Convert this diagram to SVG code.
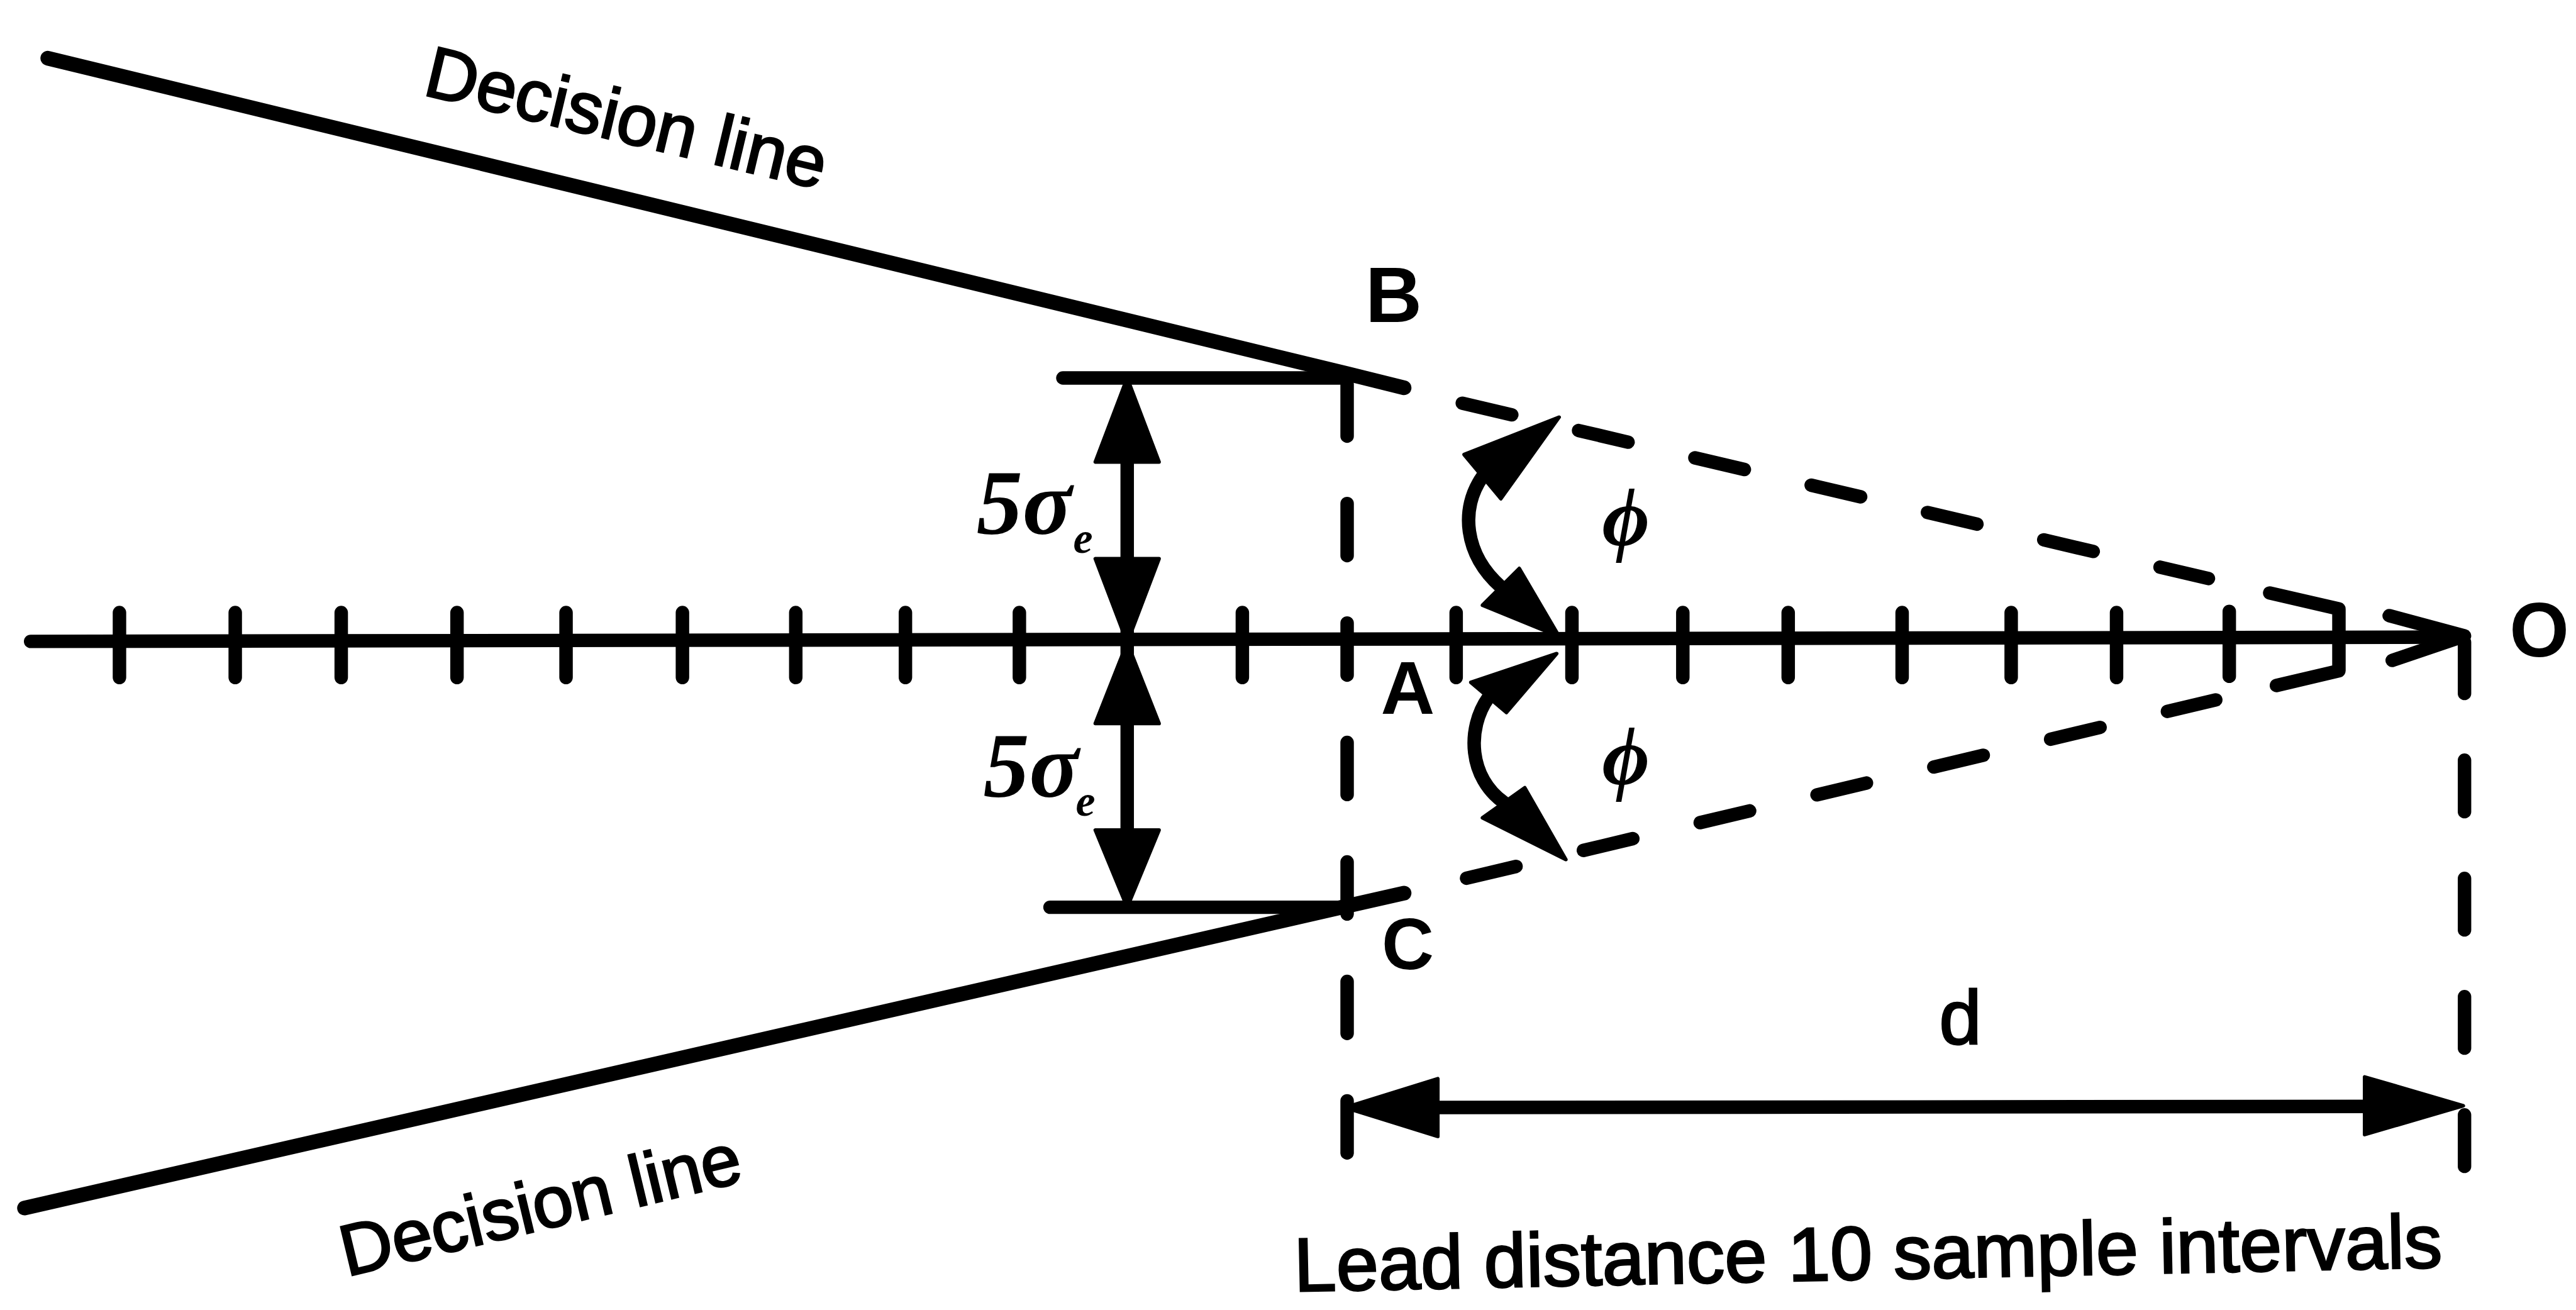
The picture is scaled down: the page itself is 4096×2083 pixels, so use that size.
<svg xmlns="http://www.w3.org/2000/svg" width="4096" height="2083" viewBox="0 0 4096 2083">
<style>
.ln{stroke:#000;stroke-width:22;fill:none;stroke-linecap:round;stroke-linejoin:round}
.dl{stroke:#000;stroke-width:24;fill:none;stroke-linecap:round;stroke-linejoin:round}
.ah{fill:#000;stroke:#000;stroke-width:6;stroke-linejoin:round}
.sans{font-family:"Liberation Sans",Arial,sans-serif;fill:#000}
.thick{stroke:#000;stroke-width:3}
.sym{font-family:"Liberation Serif","DejaVu Serif",serif;font-style:italic;font-weight:bold;fill:#000}
</style>
<rect width="4096" height="2083" fill="#fff"/>
<g transform="scale(0.97408)">
  <g id="decision-lines">
    <path class="dl" d="M 78 95 L 2199 610 L 2292 633"/>
    <path class="dl" d="M 40 1972 L 2199 1479 L 2292 1458"/>
    <text class="sans thick" font-size="118" transform="translate(688 154) rotate(13.4)">Decision line</text>
    <text class="sans thick" font-size="118" transform="translate(566 2084) rotate(-13.5)">Decision line</text>
  </g>
  <g id="axis">
    <path class="ln" d="M 50 1047 L 4020 1040"/>
    <path class="ln" d="M 195 1000 V 1106 M 384 1000 V 1106 M 557 1000 V 1106 M 746 1000 V 1106 M 924 1000 V 1106 M 1114 1000 V 1106 M 1299 1000 V 1106 M 1478 1000 V 1106 M 1664 1000 V 1106 M 2028 1000 V 1106 M 2377 1000 V 1106 M 2566 1000 V 1106 M 2747 1000 V 1106 M 2919 1000 V 1106 M 3105 1000 V 1106 M 3283 1000 V 1106 M 3455 1000 V 1106 M 3639 998 V 1104"/>
    <polyline class="ln" points="3900,1005 4023,1038 3905,1078"/>
  </g>
  <g id="mask-lines">
    <line class="ln" x1="2387" y1="658.2" x2="3605" y2="944.4" stroke-dasharray="83 112"/>
    <line class="ln" x1="2394" y1="1433.6" x2="3617" y2="1142.5" stroke-dasharray="83 113"/>
    <path class="ln" d="M 3705 968 L 3818 994 L 3818 1095 L 3716 1119"/>
    <line class="ln" x1="2199" y1="627" x2="2199" y2="1882" stroke-dasharray="85 110"/>
    <line class="ln" x1="4023" y1="1048" x2="4023" y2="1904" stroke-dasharray="84 109"/>
  </g>
  <g id="dimension-5sigma">
    <path class="ln" d="M 1735 617 L 2199 617 M 1714 1481 L 2199 1481 M 1840 700 L 1840 1400"/>
    <polygon class="ah" points="1840,617 1788,754 1892,754"/>
    <polygon class="ah" points="1788,912 1892,912 1840,1049"/>
    <polygon class="ah" points="1840,1049 1788,1181 1892,1181"/>
    <polygon class="ah" points="1788,1355 1892,1355 1840,1481"/>
    <text class="sym" font-size="150" x="1594" y="872">5σ</text>
    <text class="sym" font-size="72" x="1752" y="902">e</text>
    <text class="sym" font-size="150" x="1605" y="1301">5σ</text>
    <text class="sym" font-size="72" x="1756" y="1332">e</text>
  </g>
  <g id="angle-arrows">
    <path class="ln" d="M 2420 778 C 2383 830, 2390 905, 2450 958"/>
    <polygon class="ah" points="2545,681 2390,742 2450,814"/>
    <polygon class="ah" points="2545,1039 2420,988 2480,928"/>
    <path class="ln" d="M 2430 1138 C 2393 1190, 2398 1270, 2455 1310"/>
    <polygon class="ah" points="2541,1067 2401,1114 2459,1163"/>
    <polygon class="ah" points="2556,1403 2420,1335 2489,1286"/>
    <text class="sym" font-size="134" x="2654" y="890" text-anchor="middle">ϕ</text>
    <text class="sym" font-size="134" x="2654" y="1280" text-anchor="middle">ϕ</text>
  </g>
  <g id="dimension-d">
    <path class="ln" d="M 2300 1808 L 3900 1806"/>
    <polygon class="ah" points="2196,1808 2347,1761 2347,1855"/>
    <polygon class="ah" points="4021,1805 3860,1758 3860,1852"/>
    <text class="sans thick" font-size="124" x="3200" y="1703" text-anchor="middle">d</text>
    <text class="sans thick" font-size="124" transform="translate(2113 2108) rotate(-1.2)">Lead distance 10 sample intervals</text>
  </g>
  <g id="points">
    <text class="sans" font-weight="bold" font-size="128" x="2275" y="526" text-anchor="middle">B</text>
    <text class="sans" font-weight="bold" font-size="122" x="2298" y="1165" text-anchor="middle">A</text>
    <text class="sans" font-weight="bold" font-size="118" x="2298" y="1582" text-anchor="middle">C</text>
    <text class="sans" font-weight="bold" font-size="125" x="4145" y="1072" text-anchor="middle">O</text>
  </g>
</g>
</svg>
